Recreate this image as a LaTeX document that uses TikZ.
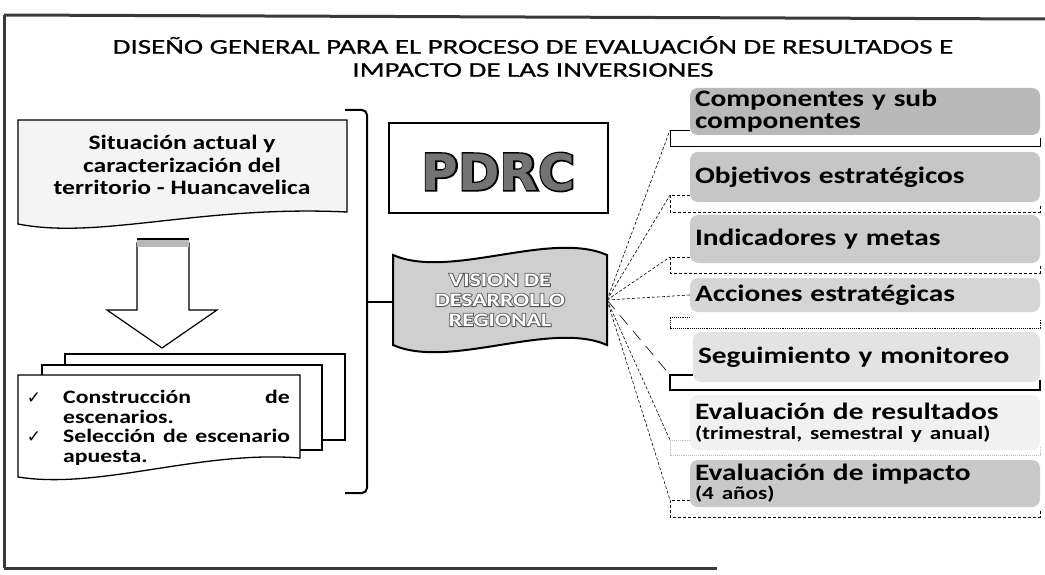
\documentclass[tikz,border=0pt]{standalone}
\usepackage{fontspec}
\setmainfont{Carlito}[FakeStretch=1.25]
\newfontfamily\titlefont{Carlito}[FakeStretch=1.38, FakeBold=0.8]
\newfontfamily\dejavu{DejaVu Sans}
\newfontfamily\pdrcouter{DejaVu Sans Bold}[FakeBold=6]
\newfontfamily\pdrcinner{DejaVu Sans Bold}
\newfontfamily\visouter{Carlito Bold}[FakeStretch=1.25, FakeBold=9]
\newcommand\smallfnt{\bfseries\fontsize{18.5}{20}\selectfont}
\usetikzlibrary{calc}
\begin{document}
\begin{tikzpicture}[x=1pt,y=-1pt,
  frameline/.style={line width=3pt, draw=gray!45!black},
  titletxt/.style={font=\titlefont\fontsize{21}{24}\selectfont, inner sep=0pt},
  docline/.style={draw=black, line width=1.3pt, fill=white},
  lefttxt/.style={font=\bfseries\fontsize{20.5}{22.5}\selectfont, align=center, inner sep=0pt},
  chktxt/.style={font=\bfseries\fontsize{19}{19.5}\selectfont, inner sep=0pt, anchor=base west},
  chkmark/.style={font=\dejavu\fontsize{17}{17}\selectfont, inner sep=0pt, anchor=base},
  rbox/.style={rounded corners=8pt, minimum width=350pt, text width=340pt, inner xsep=5pt, inner ysep=0pt, align=left, font=\bfseries\fontsize{23.5}{22}\selectfont},
  brk/.style={line width=0.9pt, draw=black},
  fan/.style={line width=0.6pt, dash pattern=on 3pt off 2pt, draw=black},
  vistxt/.style={font=\bfseries\fontsize{19}{20}\selectfont, align=center, inner sep=0pt},
  visout/.style={font=\visouter\fontsize{19}{20}\selectfont, align=center, inner sep=0pt},
  pdrcin/.style={font=\pdrcinner\fontsize{50}{50}\selectfont, inner sep=0pt},
  pdrcout/.style={font=\pdrcouter\fontsize{50}{50}\selectfont, inner sep=0pt}
]
\useasboundingbox (0,0) rectangle (1045,575);
\fill[white] (0,0) rectangle (1045,575);

% frame
\draw[frameline] (4,15) -- (1045,19);
\draw[frameline] (4,15) -- (4,568);
\draw[frameline] (4,568) -- (717,568);

% title
\node[titletxt] (title1) at (533,45) {DISEÑO GENERAL PARA EL PROCESO DE EVALUACIÓN DE RESULTADOS E};
\node[titletxt] (title2) at (533,70) {IMPACTO DE LAS INVERSIONES};

% left document box
\draw[docline, fill=gray!9] (18,120) -- (347,120) -- (347,212) .. controls (200,205) and (100,240) .. (18,224) -- cycle;
\node[lefttxt] (sit) at (182,165) {Situación actual y\\caracterización del\\territorio - Huancavelica};

% block arrow
\draw[line width=1.2pt, fill=white] (137,243) -- (189,243) -- (189,310) -- (217,310) -- (162,348) -- (107,310) -- (137,310) -- cycle;
\fill[gray!55] (137,238) rectangle (189,247);
\draw[line width=2pt] (137,239) -- (189,239);

% stacked documents
\draw[docline] (65,354) rectangle (345,440);
\draw[docline] (42,365) rectangle (322,450);
\draw[docline] (18,375) -- (300,375) -- (300,458) .. controls (200,450) and (100,490) .. (18,477) -- cycle;
\node[chkmark] (c1) at (34,403) {✓};
\node[chkmark] (c2) at (34,442) {✓};
\node[chktxt] (l1a) at (63,403) {Construcción};
\node[chktxt, anchor=base east] (l1b) at (290,403) {de};
\node[chktxt] (l2) at (63,423) {escenarios.};
\node[chktxt] (l3) at (63,442) {\makebox[227pt][s]{Selección de escenario}};
\node[chktxt] (l4) at (63,462) {apuesta.};

% big bracket
\draw[line width=2pt, rounded corners=5pt] (345,110) -| (367,493) -- (345,493);
\coordinate (brm) at (366,302);

% PDRC
\node[pdrcout, text=black] (pdrcshadow) at (498.5,172) {PDRC};
\node[draw, line width=1.2pt, minimum width=219pt, minimum height=90pt, inner sep=0pt] (pdrcbox) at (498.5,168) {};
\node[pdrcin, text=black!55] (pdrc) at (498.5,172) {PDRC};

% vision wave
\draw[line width=2pt, fill=gray!38] (393,255) .. controls (450,280) and (550,230) .. (607,255) -- (607,345) .. controls (550,320) and (450,370) .. (393,345) -- cycle;
\coordinate (visw) at (393,302);
\coordinate (vise) at (607,300);
\node[visout, text=gray!70!black] (visshadow) at (500,300) {VISION DE\\DESARROLLO\\REGIONAL};
\node[vistxt, text=white] (vis) at (500,300) {VISION DE\\DESARROLLO\\REGIONAL};
\draw[line width=2pt] (brm) -- (visw);

% right boxes
\node[rbox, fill=gray!55, minimum height=47pt] (b1) at (865,111.5) {Componentes y sub\\componentes};
\node[rbox, fill=gray!45, minimum height=50pt] (b2) at (865,177) {Objetivos estratégicos};
\node[rbox, fill=gray!40, minimum height=48pt] (b3) at (865,239) {Indicadores y metas};
\node[rbox, fill=gray!33, minimum height=34pt] (b4) at (865,295) {Acciones estratégicas};
\node[rbox, fill=gray!22, minimum height=50pt, minimum width=347pt, text width=337pt] (b5) at (866.5,357) {Seguimiento y monitoreo};
\node[rbox, fill=gray!11, minimum height=55pt] (b6) at (865,422.5) {Evaluación de resultados\\[-2pt]{\smallfnt(trimestral, semestral y anual)}};
\node[rbox, fill=gray!42, minimum height=47pt] (b7) at (865,483.5) {Evaluación de impacto\\[-3pt]{\smallfnt(4 años)}};

% brackets under the boxes
\coordinate (k1) at (670,130);
\coordinate (k2) at (670,195);
\coordinate (k3) at (670,257);
\coordinate (k4) at (670,317);
\coordinate (k5) at (670,375);
\coordinate (k6) at (670,440);
\coordinate (k7) at (670,500);
\draw[brk] (690,130) -- (k1) |- (1040,146) -- (1040,138);
\draw[brk, densely dashed] (690,195) -- (k2) |- (1040,212) -- (1040,204);
\draw[brk, densely dashed] (690,257) -- (k3) |- (1040,273) -- (1040,265);
\draw[brk, densely dotted] (690,317) -- (k4) |- (1040,328) -- (1040,320);
\draw[line width=2pt] (693,375) -- (k5) |- (1040,390) -- (1040,380);
\draw[brk, draw=gray!50, densely dotted] (690,440) -- (k6) |- (1040,455) -- (1040,447);
\draw[brk, densely dashed] (690,500) -- (k7) |- (1040,517) -- (1040,509);

% fan connectors
\draw[fan] (vise) -- (k1);
\draw[fan] (vise) -- (k2);
\draw[fan] (vise) -- (k3);
\draw[fan] (vise) -- (b4.west);
\draw[fan, dash pattern=on 12pt off 8pt] (vise) -- (k5);
\draw[fan] (vise) -- (k6);
\draw[fan] (vise) -- (k7);
\end{tikzpicture}
\end{document}
